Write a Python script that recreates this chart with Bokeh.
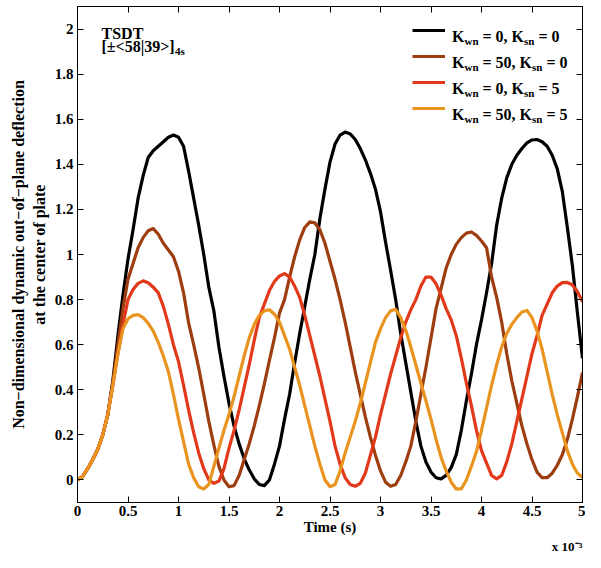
from bokeh.plotting import figure
from bokeh.models import (Range1d, FixedTicker, LinearAxis, Label, Legend, LegendItem,
                          ColumnDataSource, Title)
from bokeh.embed import file_html
from bokeh.resources import INLINE

# ---------------- data (time in units of 1e-3 s) ----------------
time_ms = [round(i * 0.05, 2) for i in range(101)]

w_k0_s0 = [0.000, 0.015, 0.050, 0.090, 0.135, 0.200, 0.290, 0.440, 0.640, 0.820,
           0.980, 1.110, 1.250, 1.350, 1.430, 1.460, 1.480, 1.500, 1.520, 1.530,
           1.520, 1.480, 1.370, 1.250, 1.130, 1.000, 0.855, 0.750, 0.590, 0.460,
           0.340, 0.240, 0.160, 0.095, 0.045, 0.005, -0.020, -0.025, 0.000, 0.070,
           0.150, 0.270, 0.380, 0.520, 0.650, 0.770, 0.890, 1.000, 1.160, 1.290,
           1.410, 1.490, 1.530, 1.543, 1.535, 1.510, 1.470, 1.420, 1.360, 1.290,
           1.190, 1.055, 0.930, 0.800, 0.650, 0.520, 0.390, 0.260, 0.150, 0.080,
           0.035, 0.010, 0.005, 0.020, 0.055, 0.112, 0.220, 0.350, 0.470, 0.600,
           0.710, 0.830, 0.960, 1.130, 1.250, 1.340, 1.400, 1.440, 1.470, 1.495,
           1.508, 1.510, 1.500, 1.480, 1.440, 1.380, 1.280, 1.120, 0.950, 0.740,
           0.540]

w_k50_s0 = [0.000, 0.015, 0.050, 0.090, 0.135, 0.200, 0.290, 0.430, 0.600, 0.760,
            0.890, 0.960, 1.030, 1.075, 1.105, 1.115, 1.090, 1.050, 1.020, 0.990,
            0.926, 0.830, 0.697, 0.600, 0.497, 0.380, 0.260, 0.155, 0.060, 0.000,
            -0.030, -0.025, 0.020, 0.090, 0.160, 0.240, 0.330, 0.426, 0.530, 0.630,
            0.740, 0.800, 0.900, 0.990, 1.065, 1.120, 1.145, 1.140, 1.110, 1.050,
            0.970, 0.890, 0.800, 0.700, 0.590, 0.480, 0.380, 0.280, 0.190, 0.110,
            0.040, -0.010, -0.028, -0.020, 0.020, 0.080, 0.150, 0.260, 0.380, 0.500,
            0.630, 0.760, 0.850, 0.940, 1.000, 1.045, 1.075, 1.095, 1.100, 1.085,
            1.060, 1.030, 0.900, 0.810, 0.700, 0.560, 0.440, 0.340, 0.240, 0.160,
            0.090, 0.035, 0.010, 0.010, 0.030, 0.065, 0.112, 0.180, 0.270, 0.370,
            0.476]

w_k0_s5 = [0.000, 0.015, 0.050, 0.090, 0.135, 0.200, 0.290, 0.420, 0.560, 0.690,
           0.800, 0.845, 0.872, 0.883, 0.875, 0.855, 0.830, 0.770, 0.690, 0.600,
           0.525, 0.420, 0.310, 0.210, 0.120, 0.050, 0.000, -0.015, -0.005, 0.050,
           0.140, 0.220, 0.310, 0.410, 0.510, 0.620, 0.720, 0.780, 0.840, 0.880,
           0.905, 0.915, 0.900, 0.860, 0.810, 0.730, 0.640, 0.550, 0.460, 0.360,
           0.260, 0.150, 0.070, 0.010, -0.020, -0.028, -0.015, 0.030, 0.110, 0.190,
           0.290, 0.380, 0.470, 0.550, 0.630, 0.700, 0.755, 0.800, 0.860, 0.900,
           0.900, 0.870, 0.820, 0.760, 0.710, 0.640, 0.540, 0.430, 0.330, 0.220,
           0.130, 0.075, 0.020, 0.005, 0.020, 0.080, 0.160, 0.260, 0.360, 0.460,
           0.560, 0.640, 0.730, 0.780, 0.830, 0.860, 0.875, 0.876, 0.865, 0.835,
           0.790]

w_k50_s5 = [0.000, 0.015, 0.050, 0.090, 0.135, 0.200, 0.290, 0.420, 0.560, 0.670,
            0.715, 0.730, 0.733, 0.720, 0.695, 0.660, 0.610, 0.550, 0.480, 0.380,
            0.270, 0.170, 0.070, 0.010, -0.030, -0.040, -0.020, 0.060, 0.140, 0.220,
            0.290, 0.370, 0.460, 0.550, 0.630, 0.690, 0.730, 0.750, 0.755, 0.735,
            0.700, 0.640, 0.580, 0.500, 0.420, 0.330, 0.240, 0.150, 0.070, 0.000,
            -0.030, -0.020, 0.040, 0.120, 0.190, 0.260, 0.340, 0.430, 0.520, 0.610,
            0.670, 0.720, 0.750, 0.757, 0.720, 0.665, 0.590, 0.510, 0.430, 0.350,
            0.270, 0.180, 0.100, 0.040, -0.010, -0.040, -0.040, 0.000, 0.060, 0.126,
            0.220, 0.320, 0.420, 0.510, 0.590, 0.650, 0.690, 0.720, 0.745, 0.752,
            0.720, 0.660, 0.580, 0.480, 0.380, 0.290, 0.210, 0.130, 0.070, 0.030,
            0.012]

series_names = ["k0_s0", "k50_s0", "k0_s5", "k50_s5"]
series_colors = ["#000000", "#9E3D10", "#E2391A", "#E8941F"]
legend_kwn = ["0", "50", "0", "50"]
legend_ksn = ["0", "0", "5", "5"]

x_ticks = [0, 0.5, 1, 1.5, 2, 2.5, 3, 3.5, 4, 4.5, 5]
x_tick_labels = ["0", "0.5", "1", "1.5", "2", "2.5", "3", "3.5", "4", "4.5", "5"]
y_ticks = [0, 0.2, 0.4, 0.6, 0.8, 1, 1.2, 1.4, 1.6, 1.8, 2]
y_tick_labels = ["0", "0.2", "0.4", "0.6", "0.8", "1", "1.2", "1.4", "1.6", "1.8", "2"]

FONT = "Liberation Serif"

# ---------------- layout constants (pixels) ----------------
W, H = 585, 552
BL, BR, BT = 77, 3, 6
FW = W - BL - BR          # frame width
FH_EST = 497              # expected frame height
X0, X1, Y0, Y1 = 0, 5, -0.1, 2.1


def dx(px):   # pixels from frame left -> data x
    return X0 + px / FW * (X1 - X0)


def dy(px):   # pixels from frame top -> data y
    return Y1 - px / FH_EST * (Y1 - Y0)


# ---------------- figure ----------------
p = figure(width=W, height=H, output_backend="svg", toolbar_location=None,
           x_range=Range1d(X0, X1), y_range=Range1d(Y0, Y1),
           min_border_left=BL, min_border_right=BR, min_border_top=BT, min_border_bottom=0)
p.grid.visible = False
p.outline_line_color = "black"
p.outline_line_width = 1
p.background_fill_color = "white"
p.border_fill_color = "white"

src = ColumnDataSource(dict(t=time_ms, k0_s0=w_k0_s0, k50_s0=w_k50_s0,
                            k0_s5=w_k0_s5, k50_s5=w_k50_s5))
renderers = []
for name, col in zip(series_names, series_colors):
    r = p.line("t", name, source=src, line_color=col, line_width=3.2, line_join="round")
    renderers.append(r)


def style_axis(ax, ticks, labels, show_labels=True):
    ax.ticker = FixedTicker(ticks=ticks)
    ax.major_label_overrides = dict(zip(ticks, labels))
    ax.major_tick_in = 6
    ax.major_tick_out = 0
    ax.minor_tick_in = 0
    ax.minor_tick_out = 0
    ax.axis_line_color = "black"
    ax.major_tick_line_color = "black"
    ax.major_label_text_font = FONT
    ax.major_label_text_font_style = "bold"
    ax.major_label_text_font_size = "15px"
    ax.major_label_text_color = "black"
    ax.axis_label_text_font = FONT
    ax.axis_label_text_font_style = "bold"
    ax.axis_label_text_font_size = "15px"
    ax.axis_label_text_color = "black"
    if not show_labels:
        ax.major_label_text_color = None
        ax.major_label_standoff = 0


xa = p.xaxis[0]
style_axis(xa, x_ticks, x_tick_labels)
xa.axis_label = "Time (s)"
xa.major_label_standoff = 3
xa.axis_label_standoff = 0

ya = p.yaxis[0]
style_axis(ya, y_ticks, y_tick_labels)
ya.axis_label = "Non\u2212dimensional dynamic out\u2212of\u2212plane deflection\nat the center of plate"
ya.axis_label_text_font_size = "16px"
ya.major_label_standoff = 4
ya.axis_label_standoff = 4

top_ax = LinearAxis()
style_axis(top_ax, x_ticks, x_tick_labels, show_labels=False)
p.add_layout(top_ax, "above")
right_ax = LinearAxis()
style_axis(right_ax, y_ticks, y_tick_labels, show_labels=False)
p.add_layout(right_ax, "right")

# axis multiplier, right-aligned under the x axis
mult = Title(text="x 10\u207b\u00b3", align="right", text_font=FONT, text_font_style="bold",
             text_font_size="13px", text_color="black", standoff=-2)
p.add_layout(mult, "below")

# ---------------- legend (samples via Legend, text via labels for subscripts) ----------------
legend_top_px = 15        # legend box top, px below frame top
legend_row_px = 26
legend_h = 4 * 20 + 3 * 6
items = [LegendItem(label=" ", renderers=[r]) for r in renderers]
legend = Legend(items=items, location=(335, FH_EST - legend_top_px - legend_h),
                glyph_width=33, glyph_height=20, label_height=20, spacing=6, padding=0,
                margin=0, label_standoff=0, label_text_color=None,
                border_line_alpha=0, background_fill_alpha=0)
p.add_layout(legend, "center")

# Times-Bold advance widths (per 1000 em)
adv = {"K": 778, "w": 722, "n": 556, "s": 389, " ": 250, "=": 570, "0": 500,
       "5": 500, ",": 250, "[": 333, "]": 333, "\u00b1": 570, "<": 570, ">": 570,
       "8": 500, "3": 500, "9": 500, "|": 220}


def text_width(s, size):
    return sum(adv.get(c, 500) for c in s) * size / 1000.0


def add_runs(x, y, runs):
    """Place consecutive text runs; leading blanks become offsets (SVG drops them)."""
    off = 0.0
    for txt, size, yo in runs:
        stripped = txt.lstrip(" ")
        off += text_width(txt[:len(txt) - len(stripped)], size)
        p.add_layout(Label(x=x, y=y, x_offset=off, y_offset=yo, text=stripped,
                           text_font=FONT, text_font_style="bold",
                           text_font_size="%dpx" % size, text_baseline="alphabetic",
                           text_align="left", text_color="black"))
        off += text_width(stripped, size)


MAIN, SUB = 16, 11
legend_text_x = dx(374.5)
for i, (kwn, ksn) in enumerate(zip(legend_kwn, legend_ksn)):
    # baseline ~5.5 px below the sample line
    ry = dy(legend_top_px + 10 + i * legend_row_px + 5.5)
    add_runs(legend_text_x, ry, [("K", MAIN, 0), ("wn", SUB, -4),
                                 (" = %s, K" % kwn, MAIN, 0), ("sn", SUB, -4),
                                 (" = %s" % ksn, MAIN, 0)])

# TSDT annotation
ann_x = dx(24)
add_runs(ann_x, dy(27), [("TSDT", 16, 0)])
add_runs(ann_x, dy(40), [("[\u00b1<58|39>]", 16, 0), ("4s", 11, -5)])

open("out.html", "w").write(file_html(p, INLINE))
